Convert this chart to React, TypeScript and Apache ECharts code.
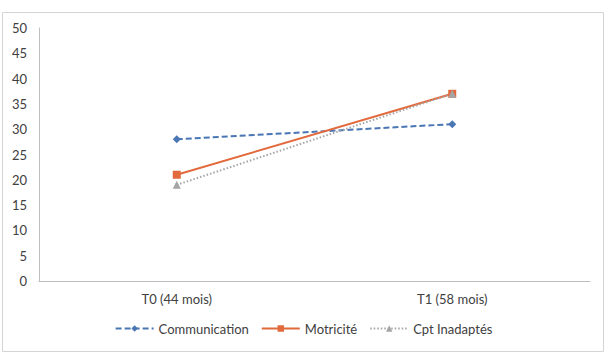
import React, { useEffect, useRef } from "react";
import * as echarts from "echarts";

const categories = ["T0 (44 mois)", "T1 (58 mois)"];
const communication = [28, 31];
const motricite = [21, 37];
const cptInadaptes = [19, 37];
const yTicks = { min: 0, max: 50, interval: 5 };

const FONT = "Lato, 'Open Sans', sans-serif";

export default function App() {
  const ref = useRef<HTMLDivElement>(null);
  useEffect(() => {
    if (!ref.current) return;
    const chart = echarts.init(ref.current, undefined, { renderer: "svg" });
    chart.setOption({
      animation: false,
      backgroundColor: "#ffffff",
      textStyle: { fontFamily: FONT },
      graphic: [
        {
          type: "rect",
          shape: { x: 2.5, y: 12.5, width: 601, height: 339 },
          style: { fill: "none", stroke: "#d4d4d4", lineWidth: 1 },
          silent: true,
        },
      ],
      grid: { left: 39, right: 17, top: 28, bottom: 76 },
      legend: {
        bottom: 17,
        left: "center",
        itemWidth: 38,
        itemHeight: 8,
        itemGap: 12,
        textStyle: { fontFamily: FONT, fontSize: 13, color: "#404040" },
        data: ["Communication", "Motricité", "Cpt Inadaptés"],
      },
      xAxis: {
        type: "category",
        data: categories,
        boundaryGap: true,
        axisLine: { lineStyle: { color: "#bfbfbf" } },
        axisTick: { show: false },
        axisLabel: { fontFamily: FONT, fontSize: 13, color: "#404040", margin: 11 },
      },
      yAxis: {
        type: "value",
        min: yTicks.min,
        max: yTicks.max,
        interval: yTicks.interval,
        axisLine: { show: true, lineStyle: { color: "#bfbfbf" } },
        axisTick: { show: false },
        splitLine: { show: false },
        axisLabel: { fontFamily: FONT, fontSize: 13, color: "#404040", margin: 12 },
      },
      series: [
        {
          name: "Communication",
          type: "line",
          data: communication,
          symbol: "diamond",
          symbolSize: 8,
          itemStyle: { color: "#4a76b4" },
          lineStyle: { color: "#4a76b4", width: 2, type: [6, 3] },
        },
        {
          name: "Motricité",
          type: "line",
          data: motricite,
          symbol: "rect",
          symbolSize: 8,
          itemStyle: { color: "#e2693b" },
          lineStyle: { color: "#e2693b", width: 2 },
        },
        {
          name: "Cpt Inadaptés",
          type: "line",
          data: cptInadaptes,
          symbol: "triangle",
          symbolSize: 8,
          itemStyle: { color: "#a5a5a5" },
          lineStyle: { color: "#a5a5a5", width: 2, type: [1.5, 2] },
        },
      ],
    });
    return () => chart.dispose();
  }, []);
  return (
    <div
      ref={ref}
      style={{ position: "fixed", left: 0, top: 0, width: 607, height: 357 }}
    />
  );
}
